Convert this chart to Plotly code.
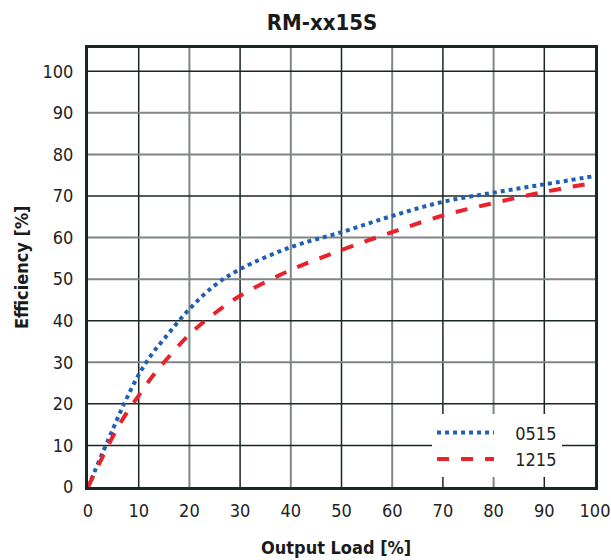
import plotly.graph_objects as go

load = [0, 5, 7.5, 10, 12.5, 15, 20, 25, 30, 40, 50, 60, 70, 80, 90, 100]
eff_0515 = [0, 14.2, 21, 27, 31.8, 35.6, 42.8, 48.5, 52.4, 57.7, 61.3, 65.2, 68.6, 70.8, 72.8, 74.8]
eff_1215 = [0, 12.4, 17.6, 22, 26.3, 30, 36.7, 41.8, 46, 52.2, 57, 61.3, 65.3, 68.3, 71, 73.2]

x_ticks = list(range(0, 101, 10))
y_ticks = list(range(0, 101, 10))
dark_x = [10, 30, 50, 70, 90]
gray_x = [20, 40, 60, 80]
dark_y = [10, 20, 40, 70, 100]
gray_y = [30, 50, 60, 80, 90]

FONT = "DejaVu Sans Condensed, Liberation Sans Narrow, Arial Narrow, sans-serif"

fig = go.Figure()
fig.add_trace(go.Scatter(x=load, y=eff_0515, mode="lines", name="\u20030515",
                         line=dict(color="#1f5fb4", width=4, dash="dot", shape="spline")))
fig.add_trace(go.Scatter(x=load, y=eff_1215, mode="lines", name="\u20031215",
                         line=dict(color="#e8232b", width=4, dash="dash", shape="spline")))

shapes = []
for v in gray_x:
    shapes.append(dict(type="line", xref="x", yref="paper", x0=v, x1=v, y0=0, y1=1,
                       line=dict(color="#808585", width=2), layer="below"))
for v in dark_x:
    shapes.append(dict(type="line", xref="x", yref="paper", x0=v, x1=v, y0=0, y1=1,
                       line=dict(color="#1a2624", width=1.5), layer="below"))
for v in gray_y:
    shapes.append(dict(type="line", xref="paper", yref="y", x0=0, x1=1, y0=v, y1=v,
                       line=dict(color="#808585", width=2), layer="below"))
for v in dark_y:
    shapes.append(dict(type="line", xref="paper", yref="y", x0=0, x1=1, y0=v, y1=v,
                       line=dict(color="#1a2624", width=1.5), layer="below"))

annotations = [
    dict(text="<b>Output Load [%]</b>", xref="paper", yref="paper", x=0.49, y=-0.137,
         xanchor="center", yanchor="middle", showarrow=False,
         font=dict(family=FONT, size=18, color="#1a1a1a")),
    dict(text="<b>Efficiency [%]</b>", xref="paper", yref="paper", x=-0.131, y=0.5,
         xanchor="center", yanchor="middle", showarrow=False, textangle=-90,
         font=dict(family=FONT, size=18, color="#1a1a1a")),
]

fig.update_layout(
    width=611, height=560,
    margin=dict(l=88, r=16, t=48, b=73),
    paper_bgcolor="white", plot_bgcolor="white",
    font=dict(family=FONT, size=18, color="#222222"),
    title=dict(text="<b>RM-xx15S</b>", x=0.527, xanchor="center", y=0.961, yanchor="middle",
               font=dict(family=FONT, size=22, color="#1a1a1a")),
    xaxis=dict(range=[0, 100], tickvals=x_ticks, showgrid=False, zeroline=False,
               showline=True, mirror=True, linecolor="#1a2624", linewidth=3, ticks="",
               ticklabelstandoff=5, automargin=False),
    yaxis=dict(range=[0, 105.6], tickvals=y_ticks, showgrid=False, zeroline=False,
               showline=True, mirror=True, linecolor="#1a2624", linewidth=3, ticks="",
               ticklabelstandoff=8, automargin=False),
    legend=dict(x=0.935, y=0.022, xanchor="right", yanchor="bottom", bgcolor="white",
                font=dict(family=FONT, size=18), itemwidth=57, tracegroupgap=4),
    shapes=shapes,
    annotations=annotations,
)

fig.write_html("out.html",
               config={"displayModeBar": False},
               post_script="document.body.style.margin='0px';document.body.style.overflow='hidden';")
